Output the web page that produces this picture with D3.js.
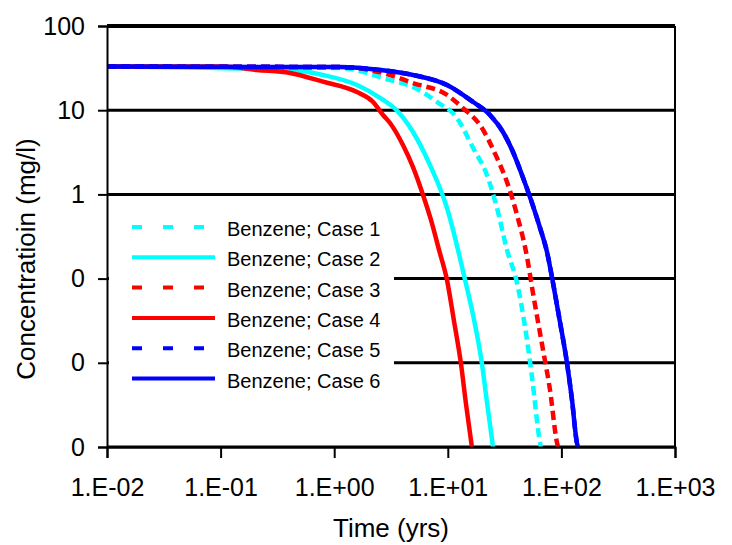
<!DOCTYPE html>
<html>
<head>
<meta charset="utf-8">
<script src="https://cdn.jsdelivr.net/npm/d3@7/dist/d3.min.js"></script>
<style>
  html, body { margin: 0; padding: 0; background: #fff; }
  svg { display: block; }
  text { font-family: "Liberation Sans", Arial, Helvetica, sans-serif; fill: #000; }
</style>
</head>
<body>
<svg id="chart" width="732" height="545"></svg>
<script>
// ---- data ----
const seriesNames = ["Benzene; Case 1", "Benzene; Case 2", "Benzene; Case 3",
                     "Benzene; Case 4", "Benzene; Case 5", "Benzene; Case 6"];
const seriesColors = ["#00FFFF", "#00FFFF", "#FF0000", "#FF0000", "#0000FF", "#0000FF"];
const seriesDashed = [true, false, true, false, true, false];

const timeCase1 = [0.01, 1.12, 3.10, 4.94, 8.04, 12.05, 16.7, 22.1, 27.1, 33.2, 40.7, 49.8, 55.1, 64.9, 66];
const concCase1 = [33, 31.7, 22.8, 18.9, 12.5, 8.07, 3.56, 1.70, 0.689, 0.219, 0.0887, 0.0187, 0.00678, 0.00112, 0.001];

const timeCase2 = [0.01, 0.408, 0.796, 1.59, 2.53, 3.60, 4.94, 6.97, 9.84, 14.2, 16.8, 20.0, 22.0, 25.0];
const concCase2 = [33, 30.0, 26.2, 19.9, 14.0, 9.8, 5.51, 2.23, 0.689, 0.0962, 0.0353, 0.00968, 0.00361, 0.001];

const timeCase3 = [0.01, 1.12, 3.10, 4.94, 9.84, 13.6, 19.2, 27.1, 33.2, 40.7, 49.8, 56.2, 68.9, 79.4, 91.5, 93.5];
const concCase3 = [33, 32.5, 26.2, 21.0, 15.2, 10.6, 6.67, 2.71, 1.40, 0.569, 0.181, 0.0675, 0.0142, 0.00475, 0.00112, 0.001];

const timeCase4 = [0.01, 0.105, 0.209, 0.408, 0.796, 1.59, 2.20, 2.69, 3.10, 4.03, 4.94, 5.93, 7.11, 8.37, 9.84, 11.3, 13.07, 14.5, 16.3];
const concCase4 = [33, 33, 30.0, 27.7, 21.8, 16.4, 12.5, 8.77, 7.05, 3.86, 2.11, 1.07, 0.497, 0.219, 0.0962, 0.0322, 0.00968, 0.00315, 0.001];

const timeCase5 = [0.01, 1.12, 2.53, 4.94, 9.84, 16.7, 23.5, 30.6, 37.5, 45.0, 54.0, 64.9, 74.7, 84.4, 97.2, 112, 124, 137, 140];
const concCase5 = [33, 32.5, 30.0, 26.2, 19.9, 12.5, 8.77, 5.51, 3.19, 1.70, 0.858, 0.399, 0.207, 0.0887, 0.0305, 0.00995, 0.00361, 0.00112, 0.001];

const timeCase6 = [0.01, 1.12, 2.53, 4.94, 9.84, 16.7, 23.5, 30.6, 37.5, 45.0, 54.0, 64.9, 74.7, 84.4, 97.2, 112, 124, 137, 140];
const concCase6 = [33, 32.5, 30.0, 26.2, 19.9, 12.5, 8.77, 5.51, 3.19, 1.70, 0.858, 0.399, 0.207, 0.0887, 0.0305, 0.00995, 0.00361, 0.00112, 0.001];

const xTickValues = [0.01, 0.1, 1, 10, 100, 1000];
const xTickLabels = ["1.E-02", "1.E-01", "1.E+00", "1.E+01", "1.E+02", "1.E+03"];
const yTickValues = [100, 10, 1, 0.1, 0.01, 0.001];
const yTickLabels = ["100", "10", "1", "0", "0", "0"];

const xTitle = "Time (yrs)";
const yTitle = "Concentratioin (mg/l)";

// ---- layout ----
const svg = d3.select("#chart");
const plot = { left: 107, right: 675, top: 26, bottom: 447 };

const x = d3.scaleLog().domain([0.01, 1000]).range([plot.left, plot.right]);
const y = d3.scaleLog().domain([0.001, 100]).range([plot.bottom, plot.top]);

// gridlines
svg.append("g").selectAll("line")
  .data(yTickValues)
  .join("line")
  .attr("x1", plot.left).attr("x2", plot.right)
  .attr("y1", d => y(d)).attr("y2", d => y(d))
  .attr("stroke", "#000")
  .attr("stroke-width", d => d === 100 ? 4 : 3);

// right border
svg.append("line")
  .attr("x1", plot.right).attr("x2", plot.right)
  .attr("y1", plot.top).attr("y2", plot.bottom)
  .attr("stroke", "#000").attr("stroke-width", 2);

// series
const allTimes = [timeCase1, timeCase2, timeCase3, timeCase4, timeCase5, timeCase6];
const allConcs = [concCase1, concCase2, concCase3, concCase4, concCase5, concCase6];
const series = seriesNames.map((name, i) => ({
  name, color: seriesColors[i], dashed: seriesDashed[i],
  points: allTimes[i].map((t, j) => ({ t, c: allConcs[i][j] }))
}));

const line = d3.line().x(d => x(d.t)).y(d => y(d.c)).curve(d3.curveMonotoneX);

svg.append("g").selectAll("path")
  .data(series)
  .join("path")
  .attr("d", d => line(d.points))
  .attr("fill", "none")
  .attr("stroke", d => d.color)
  .attr("stroke-width", 4.5)
  .attr("stroke-linejoin", "round")
  .attr("stroke-dasharray", d => d.dashed ? "9,5" : null);

// axes
const xAxis = d3.axisBottom(x)
  .tickValues(xTickValues)
  .tickFormat((d, i) => xTickLabels[i])
  .tickSize(11).tickPadding(20);
const gx = svg.append("g").attr("transform", `translate(0,${plot.bottom})`).call(xAxis);
gx.select(".domain").attr("stroke", "#000").attr("stroke-width", 2);
gx.selectAll(".tick line").attr("stroke", "#000").attr("stroke-width", 2);
gx.selectAll(".tick text").attr("font-size", 25).attr("fill", "#000")
  .style("font-family", "'Liberation Sans', Arial, sans-serif");

const yAxis = d3.axisLeft(y)
  .tickValues(yTickValues)
  .tickFormat((d, i) => yTickLabels[i])
  .tickSize(9).tickPadding(13);
const gy = svg.append("g").attr("transform", `translate(${plot.left},0)`).call(yAxis);
gy.select(".domain").attr("stroke", "#000").attr("stroke-width", 2);
gy.selectAll(".tick line").attr("stroke", "#000").attr("stroke-width", 2);
gy.selectAll(".tick text").attr("font-size", 25).attr("fill", "#000")
  .style("font-family", "'Liberation Sans', Arial, sans-serif");

// axis titles
svg.append("text")
  .attr("x", 391)
  .attr("y", 537)
  .attr("text-anchor", "middle")
  .attr("font-size", 26)
  .text(xTitle);

svg.append("text")
  .attr("transform", `translate(35,259) rotate(-90)`)
  .attr("text-anchor", "middle")
  .attr("font-size", 26)
  .text(yTitle);

// legend
const legend = svg.append("g");
legend.append("rect")
  .attr("x", 109).attr("y", 206).attr("width", 285).attr("height", 190)
  .attr("fill", "#fff");
const rowY0 = 227, rowStep = 30.3;
const items = legend.selectAll("g.item").data(series).join("g")
  .attr("class", "item")
  .attr("transform", (d, i) => `translate(0,${rowY0 + i * rowStep})`);
items.append("line")
  .attr("x1", 132).attr("x2", 215).attr("y1", 0).attr("y2", 0)
  .attr("stroke", d => d.color)
  .attr("stroke-width", 4)
  .attr("stroke-dasharray", d => d.dashed ? "10,21" : null);
items.append("text")
  .attr("x", 227).attr("y", 9)
  .attr("font-size", 20)
  .text(d => d.name);
</script>
</body>
</html>
